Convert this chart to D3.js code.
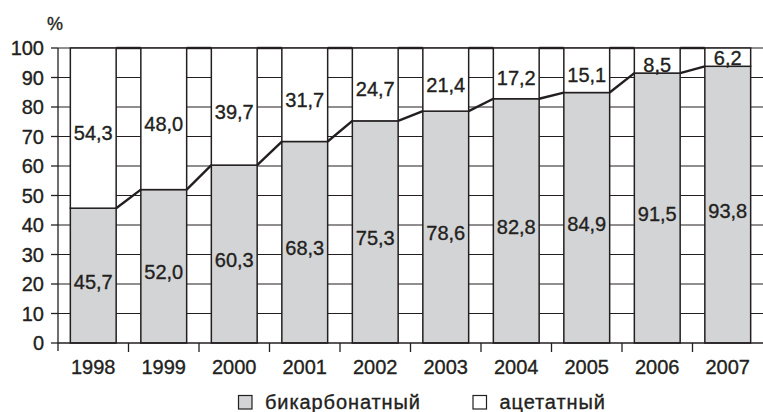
<!DOCTYPE html>
<html>
<head>
<meta charset="utf-8">
<script src="https://cdn.jsdelivr.net/npm/d3@7"></script>
<style>
  html, body { margin: 0; padding: 0; background: #fff; }
  svg text { font-family: "Liberation Sans", Arial, sans-serif; fill: #231f20; stroke: #231f20; stroke-width: 0.35px; }
</style>
</head>
<body>
<svg id="chart" width="763" height="412"></svg>
<script>
// Share of dialysis concentrate types by year, %
const years = ["1998", "1999", "2000", "2001", "2002", "2003", "2004", "2005", "2006", "2007"];
const bicarbonate = [45.7, 52.0, 60.3, 68.3, 75.3, 78.6, 82.8, 84.9, 91.5, 93.8];
const acetate = [54.3, 48.0, 39.7, 31.7, 24.7, 21.4, 17.2, 15.1, 8.5, 6.2];
const yTicks = [0, 10, 20, 30, 40, 50, 60, 70, 80, 90, 100];
const seriesNames = ["бикарбонатный", "ацетатный"];

const ink = "#231f20";
const grey = "#d3d4d6";
const fmt = v => v.toFixed(1).replace(".", ",");

const svg = d3.select("#chart");
const x = d3.scaleBand().domain(years).range([58, 763]).paddingInner(0.35).paddingOuter(0.175);
const y = d3.scaleLinear().domain([0, 100]).range([343, 48]);
const step = x.step();
const bw = x.bandwidth();
const gap = (step - bw) / 2;

// horizontal grid
svg.append("g").selectAll("line").data(yTicks.filter(t => t > 0)).join("line")
  .attr("x1", 58).attr("x2", 763)
  .attr("y1", d => y(d)).attr("y2", d => y(d))
  .attr("stroke", ink).attr("stroke-width", 1.1);

// stacked segments
const rows = years.map((yr, i) => ({ yr, b: bicarbonate[i], a: acetate[i] }));
const bars = svg.append("g");
bars.selectAll("rect.b").data(rows).join("rect").attr("class", "b")
  .attr("x", d => x(d.yr)).attr("width", bw)
  .attr("y", d => y(d.b)).attr("height", d => y(0) - y(d.b))
  .attr("fill", grey).attr("stroke", ink).attr("stroke-width", 1.5);
bars.selectAll("rect.a").data(rows).join("rect").attr("class", "a")
  .attr("x", d => x(d.yr)).attr("width", bw)
  .attr("y", d => y(d.b + d.a)).attr("height", d => y(d.b) - y(d.b + d.a))
  .attr("fill", "#fff").attr("stroke", ink).attr("stroke-width", 1.5);

// series lines joining the tops of each stack level
const levels = [rows.map(d => d.b), rows.map(d => d.b + d.a)];
levels.forEach(lv => {
  svg.append("g").selectAll("line").data(d3.range(rows.length - 1)).join("line")
    .attr("x1", i => x(years[i]) + bw).attr("y1", i => y(lv[i]))
    .attr("x2", i => x(years[i + 1])).attr("y2", i => y(lv[i + 1]))
    .attr("stroke", ink).attr("stroke-width", 2.4);
});

// axes
const axes = svg.append("g").attr("stroke", ink).attr("stroke-width", 1.3);
axes.append("line").attr("x1", 58).attr("x2", 58).attr("y1", y(100)).attr("y2", y(0) + 8);
axes.append("line").attr("x1", 58).attr("x2", 763).attr("y1", y(0)).attr("y2", y(0));
axes.selectAll("line.yt").data(yTicks).join("line").attr("class", "yt")
  .attr("x1", 51).attr("x2", 58).attr("y1", d => y(d)).attr("y2", d => y(d));
axes.selectAll("line.xt").data(years.slice(1)).join("line").attr("class", "xt")
  .attr("x1", d => x(d) - gap).attr("x2", d => x(d) - gap)
  .attr("y1", y(0)).attr("y2", y(0) + 9);

svg.append("g").selectAll("text").data(yTicks).join("text")
  .attr("x", 44).attr("y", d => y(d)).attr("dy", "0.35em")
  .attr("text-anchor", "end").attr("font-size", 20)
  .text(d => d);
svg.append("text").attr("x", 55).attr("y", 24).attr("dy", "0.35em")
  .attr("text-anchor", "middle").attr("font-size", 18).text("%");

svg.append("g").selectAll("text").data(years).join("text")
  .attr("x", d => x(d) + bw / 2).attr("y", 367).attr("dy", "0.35em")
  .attr("text-anchor", "middle").attr("font-size", 20)
  .text(d => d);

// value labels
const lab = svg.append("g").attr("font-size", 20).attr("text-anchor", "middle");
lab.selectAll("text.b").data(rows).join("text")
  .attr("x", d => x(d.yr) + bw / 2).attr("y", d => y(d.b / 2) + 6).attr("dy", "0.35em")
  .text(d => fmt(d.b));
lab.selectAll("text.a").data(rows).join("text")
  .attr("x", d => x(d.yr) + bw / 2)
  .attr("y", d => Math.min(y(d.b + d.a / 2) + 5, y(d.b) - 8.5)).attr("dy", "0.35em")
  .text(d => fmt(d.a));

// legend
const legend = svg.append("g");
const legendItems = [{ name: seriesNames[0], fill: grey, x: 238.5 }, { name: seriesNames[1], fill: "#fff", x: 473 }];
legendItems.forEach(it => {
  legend.append("rect").attr("x", it.x).attr("y", 395.5).attr("width", 13.5).attr("height", 13.5)
    .attr("fill", it.fill).attr("stroke", ink).attr("stroke-width", 1.2);
  legend.append("text").attr("x", it.x + 26.5).attr("y", 409)
    .attr("font-size", 20).attr("letter-spacing", 0.9).text(it.name);
});
</script>
</body>
</html>
